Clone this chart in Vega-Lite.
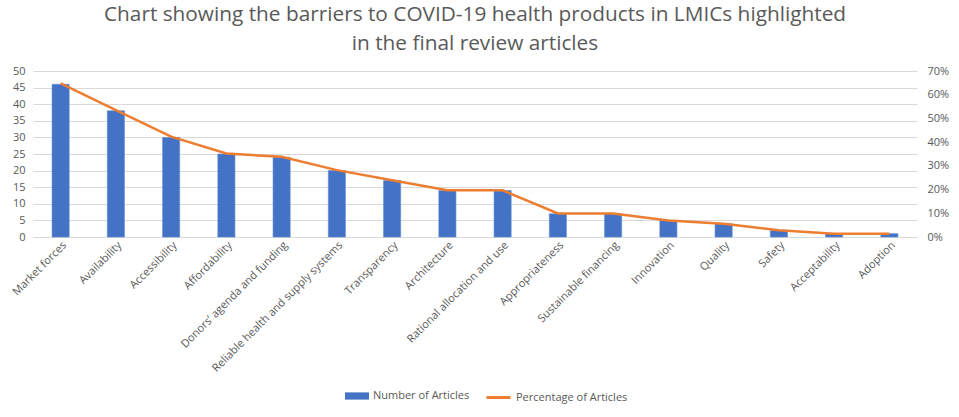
{
  "$schema": "https://vega.github.io/schema/vega-lite/v6.json",
  "width": 884,
  "height": 166,
  "autosize": {"type": "none"},
  "padding": {"left": 33, "top": 71, "right": 42, "bottom": 180},
  "background": "white",
  "config": {
    "font": "Open Sans",
    "view": {"stroke": null},
    "axis": {"labelFont": "Open Sans", "labelColor": "#595959", "labelFontSize": 11}
  },
  "title": {
    "text": ["Chart showing the barriers to COVID-19 health products in LMICs highlighted", "in the final review articles"],
    "font": "Open Sans",
    "fontSize": 20.8,
    "fontWeight": "normal",
    "color": "#595959",
    "lineHeight": 29,
    "anchor": "middle",
    "offset": 10
  },
  "data": {
    "values": [
      {"barrier": "Market forces", "n": 46, "pct": 0.648},
      {"barrier": "Availability", "n": 38, "pct": 0.535},
      {"barrier": "Accessibility", "n": 30, "pct": 0.423},
      {"barrier": "Affordability", "n": 25, "pct": 0.352},
      {"barrier": "Donors’ agenda and funding", "n": 24, "pct": 0.338},
      {"barrier": "Reliable health and supply systems", "n": 20, "pct": 0.282},
      {"barrier": "Transparency", "n": 17, "pct": 0.239},
      {"barrier": "Architecture", "n": 14, "pct": 0.197},
      {"barrier": "Rational allocation and use", "n": 14, "pct": 0.197},
      {"barrier": "Appropriateness", "n": 7, "pct": 0.099},
      {"barrier": "Sustainable financing", "n": 7, "pct": 0.099},
      {"barrier": "Innovation", "n": 5, "pct": 0.07},
      {"barrier": "Quality", "n": 4, "pct": 0.056},
      {"barrier": "Safety", "n": 2, "pct": 0.028},
      {"barrier": "Acceptability", "n": 1, "pct": 0.014},
      {"barrier": "Adoption", "n": 1, "pct": 0.014}
    ]
  },
  "encoding": {
    "x": {
      "field": "barrier",
      "type": "nominal",
      "sort": null,
      "scale": {"paddingInner": 0.69, "paddingOuter": 0.345},
      "axis": {
        "title": null,
        "labelAngle": -45,
        "labelAlign": "right",
        "labelBaseline": "top",
        "labelPadding": 2,
        "domain": true,
        "domainColor": "#D9D9D9",
        "ticks": false,
        "labelLimit": 300
      }
    }
  },
  "layer": [
    {
      "mark": {"type": "bar", "stroke": "#5B8BD6", "strokeWidth": 0.6},
      "encoding": {
        "y": {
          "field": "n",
          "type": "quantitative",
          "scale": {"domain": [0, 50], "nice": false},
          "axis": {
            "title": null,
            "values": [0, 5, 10, 15, 20, 25, 30, 35, 40, 45, 50],
            "domain": false,
            "ticks": false,
            "labelPadding": 8,
            "gridColor": "#D9D9D9",
            "gridWidth": 1
          }
        },
        "fill": {
          "datum": "Number of Articles",
          "type": "nominal",
          "scale": {"range": ["#4472C4"]},
          "legend": {
            "title": null,
            "orient": "none",
            "legendX": 312,
            "legendY": 313,
            "symbolType": "M-1,-0.3H1V0.3H-1Z",
            "symbolSize": 576,
            "symbolStrokeWidth": 0,
            "labelFontSize": 11,
            "labelColor": "#595959",
            "labelFont": "Open Sans"
          }
        }
      }
    },
    {
      "mark": {"type": "line", "strokeWidth": 2.5},
      "encoding": {
        "y": {
          "field": "pct",
          "type": "quantitative",
          "scale": {"domain": [0, 0.7], "nice": false},
          "axis": {
            "title": null,
            "orient": "right",
            "format": ".0%",
            "values": [0, 0.1, 0.2, 0.3, 0.4, 0.5, 0.6, 0.7],
            "domain": false,
            "ticks": false,
            "grid": false,
            "labelPadding": 10
          }
        },
        "stroke": {
          "datum": "Percentage of Articles",
          "type": "nominal",
          "scale": {"range": ["#ED7D31"]},
          "legend": {
            "title": null,
            "orient": "none",
            "legendX": 452,
            "legendY": 313,
            "symbolType": "stroke",
            "symbolSize": 576,
            "symbolStrokeWidth": 3,
            "labelFontSize": 11,
            "labelColor": "#595959",
            "labelFont": "Open Sans"
          }
        }
      }
    }
  ],
  "resolve": {"scale": {"y": "independent", "fill": "independent", "stroke": "independent"}}
}
